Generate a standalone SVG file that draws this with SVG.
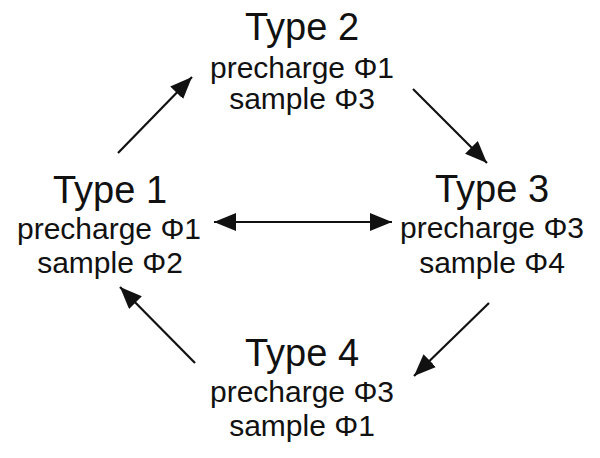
<svg xmlns="http://www.w3.org/2000/svg" width="600" height="458" viewBox="0 0 600 458">
<style>
.t{font-family:"Liberation Sans",Arial,sans-serif;font-size:38px;fill:#111;text-anchor:middle}
.s{font-family:"Liberation Sans",Arial,sans-serif;font-size:30px;fill:#111;text-anchor:middle}
.c{stroke:#111;stroke-width:2.2;fill:none}
</style>
<defs>
<marker id="ah" markerUnits="userSpaceOnUse" markerWidth="24" markerHeight="18" refX="22" refY="9" orient="auto-start-reverse" viewBox="0 0 24 18">
<path d="M0,0 L22,9 L0,18 z" fill="#111"/>
</marker>
</defs>
<rect width="600" height="458" fill="#fff"/>
<g id="connectors">
<line class="c" x1="118" y1="153" x2="192" y2="77" marker-end="url(#ah)"/>
<line class="c" x1="413" y1="89" x2="487" y2="163" marker-end="url(#ah)"/>
<line class="c" x1="214" y1="222" x2="392" y2="222" marker-start="url(#ah)" marker-end="url(#ah)"/>
<line class="c" x1="489" y1="303" x2="414" y2="376" marker-end="url(#ah)"/>
<line class="c" x1="195" y1="363" x2="120" y2="287" marker-end="url(#ah)"/>
</g>
<g id="type1">
<text class="t" x="110" y="203">Type 1</text>
<text class="s" x="109" y="239">precharge Φ1</text>
<text class="s" x="110" y="273">sample Φ2</text>
</g>
<g id="type2">
<text class="t" x="302" y="40">Type 2</text>
<text class="s" x="302" y="78">precharge Φ1</text>
<text class="s" x="302" y="109">sample Φ3</text>
</g>
<g id="type3">
<text class="t" x="492" y="202">Type 3</text>
<text class="s" x="492" y="238">precharge Φ3</text>
<text class="s" x="492" y="273">sample Φ4</text>
</g>
<g id="type4">
<text class="t" x="302" y="366">Type 4</text>
<text class="s" x="302" y="402">precharge Φ3</text>
<text class="s" x="302" y="436">sample Φ1</text>
</g>
</svg>
